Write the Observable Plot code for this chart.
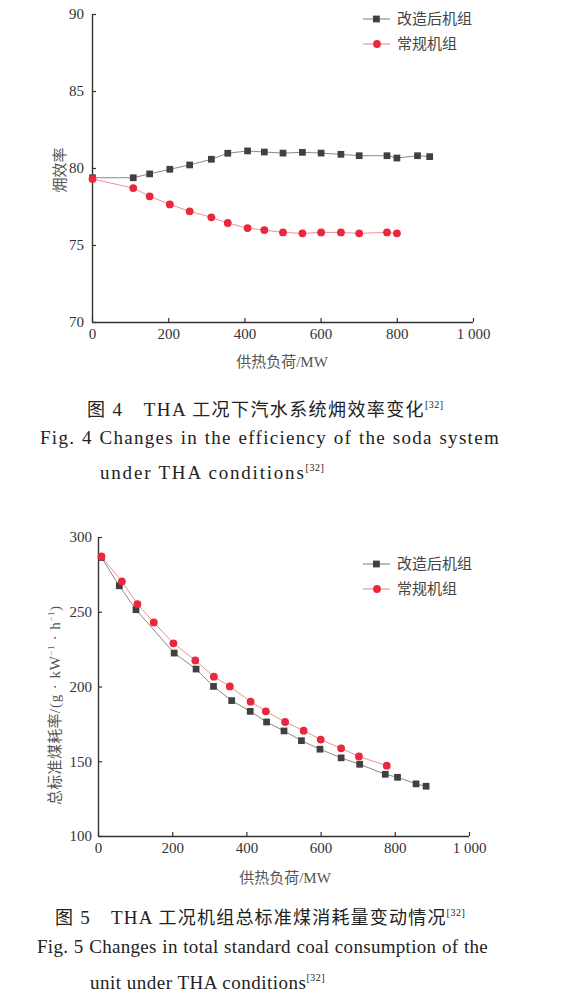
<!DOCTYPE html>
<html>
<head>
<meta charset="utf-8">
<script src="https://cdn.jsdelivr.net/npm/d3@7"></script>
<script src="https://cdn.jsdelivr.net/npm/@observablehq/plot@0.6"></script>
<style>
  html, body { margin: 0; padding: 0; background: #fff; }
  #page { position: relative; width: 581px; height: 994px; overflow: hidden;
    font-family: "Liberation Serif", "Times New Roman", "Noto Sans CJK SC", serif; color: #333; }
  .ylab { position: absolute; white-space: nowrap; transform: translate(-50%, -50%) rotate(-90deg);
    font-size: 15px; color: #555; }
  .xlab { position: absolute; white-space: nowrap; transform: translate(-50%, -50%); font-size: 15px; color: #555; }
  .leg { position: absolute; font-size: 15px; color: #444; line-height: 24.5px; }
  .leg div { display: flex; align-items: center; height: 24.5px; }
  .leg svg { margin-right: 7px; }
  .cap { position: absolute; font-size: 19px; color: #222; white-space: nowrap; line-height: 24px; }
  .cap .zh { font-size: 18px; }
  .just { text-align: justify; text-align-last: justify; white-space: normal; }
  .cap sup { font-size: 10px; vertical-align: 8px; letter-spacing: 0.5px; }
</style>
</head>
<body>
<div id="page"></div>
<script>
// ---------- data ----------
const xTicks = [0, 200, 400, 600, 800, 1000];
const yTicks1 = [70, 75, 80, 85, 90];
const yTicks2 = [100, 150, 200, 250, 300];
const seriesNames = ["改造后机组", "常规机组"];

// Fig 4: exergy efficiency
const fig4ModX = [0, 107, 150, 203, 255, 312, 355, 407, 451, 500, 551, 600, 652, 700, 773, 799, 853, 885];
const fig4ModY = [79.4, 79.4, 79.65, 79.95, 80.23, 80.6, 80.99, 81.14, 81.07, 81.0, 81.05, 81.0, 80.92, 80.83, 80.83, 80.68, 80.83, 80.77];
const fig4ConvX = [0, 107, 150, 203, 255, 312, 355, 407, 451, 500, 551, 600, 652, 700, 773, 799];
const fig4ConvY = [79.32, 78.73, 78.19, 77.67, 77.22, 76.83, 76.46, 76.13, 76.0, 75.85, 75.79, 75.85, 75.85, 75.79, 75.85, 75.79];

// Fig 5: total standard coal consumption rate
const fig5ModX = [8, 56, 101, 204, 263, 310, 359, 409, 453, 500, 547, 597, 654, 704, 773, 806, 856, 883];
const fig5ModY = [286.6, 267.7, 251.7, 222.7, 212, 200.4, 190.9, 183.7, 176.6, 170.6, 164.1, 158.4, 152.6, 148.3, 141.6, 139.6, 135.2, 133.6];
const fig5ConvX = [8, 63, 105, 149, 202, 261, 311, 354, 410, 451, 503, 553, 599, 654, 702, 777];
const fig5ConvY = [287.3, 270.6, 255.5, 243.2, 229.2, 217.8, 206.9, 200.4, 190.2, 183.7, 176.6, 170.8, 164.8, 159.0, 153.5, 147.4];

// ---------- styles ----------
const modLine = "#6a6a6a", modFill = "#404040";
const convLine = "#ee7079", convFill = "#e8283c";
const fmtX = d => d === 1000 ? "1 000" : String(d);
const zip = (xs, ys) => xs.map((x, i) => ({x, y: ys[i]}));

function chart({mod, conv, yDomain, yTicks, mL, mR, mT, mB, h, xPad, yPad}) {
  return Plot.plot({
    width: 581, height: h,
    marginLeft: mL, marginRight: mR, marginTop: mT, marginBottom: mB,
    x: {domain: [0, 1000]},
    y: {domain: yDomain},
    style: {fontFamily: '"Liberation Serif", "Times New Roman", serif', fontSize: "15px", color: "#333", background: "transparent", overflow: "visible"},
    marks: [
      Plot.axisX({ticks: xTicks, tickFormat: fmtX, tickSize: -4, tickPadding: xPad, label: null, stroke: "#333", strokeWidth: 1.2}),
      Plot.axisY({ticks: yTicks, tickSize: -4, tickPadding: yPad, label: null, stroke: "#333", strokeWidth: 1.2}),
      Plot.ruleX([0], {stroke: "#333", strokeWidth: 1.4}),
      Plot.ruleY([yDomain[0]], {stroke: "#333", strokeWidth: 1.4}),
      Plot.line(mod, {x: "x", y: "y", stroke: modLine, strokeWidth: 0.8}),
      Plot.dot(mod, {x: "x", y: "y", symbol: "square", r: 3.8, fill: modFill, stroke: "none"}),
      Plot.line(conv, {x: "x", y: "y", stroke: convLine, strokeWidth: 0.8}),
      Plot.dot(conv, {x: "x", y: "y", symbol: "circle", r: 3.9, fill: convFill, stroke: "none"})
    ]
  });
}

const page = document.getElementById("page");

function place(el, left, top) {
  el.style.position = "absolute"; el.style.left = left + "px"; el.style.top = top + "px";
  page.appendChild(el);
}

// Fig 4 plot
const c1 = chart({
  mod: zip(fig4ModX, fig4ModY), conv: zip(fig4ConvX, fig4ConvY),
  yDomain: [70, 90], yTicks: yTicks1,
  mL: 92, mR: 108, mT: 14, mB: 58, h: 380, xPad: 10, yPad: 12.5
});
place(c1, 0, 0);

// Fig 5 plot
const c2 = chart({
  mod: zip(fig5ModX, fig5ModY), conv: zip(fig5ConvX, fig5ConvY),
  yDomain: [100, 300], yTicks: yTicks2,
  mL: 98, mR: 112, mT: 17, mB: 64, h: 380, xPad: 10, yPad: 10.5
});
place(c2, 0, 520);

function html(s) { const d = document.createElement("div"); d.innerHTML = s; return d.firstElementChild; }

// axis titles
page.appendChild(html(`<div class="ylab" style="left:58px;top:170px">㶲效率</div>`));
page.appendChild(html(`<div class="xlab" style="left:282px;top:360px">供热负荷/MW</div>`));
page.appendChild(html(`<div class="ylab" style="left:53px;top:705px"><span style="letter-spacing:0.3px">总标准煤耗率</span><span style="letter-spacing:0.9px">/(g · kW<sup style="font-size:8px;vertical-align:6px">−1</sup> · h<sup style="font-size:8px;vertical-align:6px">−1</sup>)</span></div>`));
page.appendChild(html(`<div class="xlab" style="left:285px;top:876px">供热负荷/MW</div>`));

// legends
const sw = (line, fill, sym) => `<svg width="27" height="10" viewBox="0 0 27 10"><line x1="0" y1="5" x2="27" y2="5" stroke="${line}" stroke-width="0.9"/>${
  sym === "square" ? `<rect x="10" y="1.6" width="6.8" height="6.8" fill="${fill}"/>` : `<circle cx="14" cy="5" r="3.9" fill="${fill}"/>`}</svg>`;
function legend(left, top) {
  return html(`<div class="leg" style="left:${left}px;top:${top}px">
    <div>${sw(modLine, modFill, "square")}<span>${seriesNames[0]}</span></div>
    <div>${sw(convLine, convFill, "circle")}<span>${seriesNames[1]}</span></div></div>`);
}
page.appendChild(legend(363, 7));
page.appendChild(legend(363, 552));

// captions
page.appendChild(html(`<div class="cap" style="left:87px;top:393px;letter-spacing:1.4px"><span class="zh">图</span> 4&emsp;THA <span class="zh">工况下汽水系统㶲效率变化</span><sup>[32]</sup></div>`));
page.appendChild(html(`<div class="cap just" style="left:40px;top:426px;width:460px;letter-spacing:1.3px">Fig. 4 Changes in the efficiency of the soda system</div>`));
page.appendChild(html(`<div class="cap" style="left:100px;top:456px;letter-spacing:1.8px">under THA conditions<sup>[32]</sup></div>`));

page.appendChild(html(`<div class="cap" style="left:55px;top:901px;letter-spacing:1.2px"><span class="zh">图</span> 5&emsp;THA <span class="zh">工况机组总标准煤消耗量变动情况</span><sup>[32]</sup></div>`));
page.appendChild(html(`<div class="cap just" style="left:37px;top:935px;width:451px;letter-spacing:0.3px">Fig. 5 Changes in total standard coal consumption of the</div>`));
page.appendChild(html(`<div class="cap" style="left:90px;top:966px;letter-spacing:0.5px">unit under THA conditions<sup>[32]</sup></div>`));
</script>
</body>
</html>
